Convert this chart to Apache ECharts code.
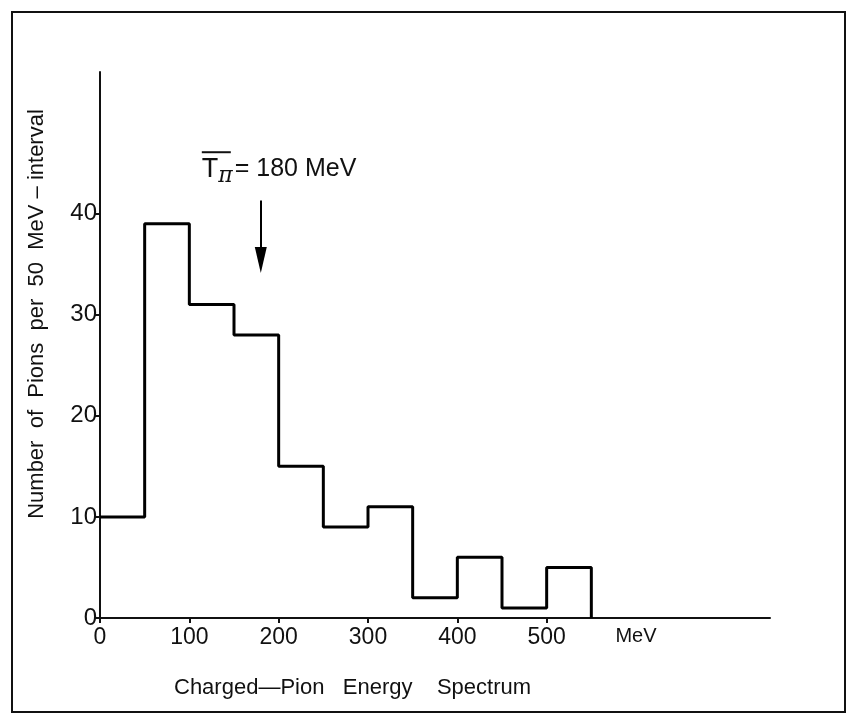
<!DOCTYPE html>
<html>
<head>
<meta charset="utf-8">
<script src="https://cdn.jsdelivr.net/npm/echarts@6/dist/echarts.min.js"></script>
<style>
  html, body { margin: 0; padding: 0; background: #fff; }
  #chart { width: 855px; height: 723px; }
</style>
</head>
<body>
<div id="chart"></div>
<script>
// bins of 50 MeV
var binStarts = [0, 50, 100, 150, 200, 250, 300, 350, 400, 450, 500];
var binWidth = 50;
var counts = [10, 39, 31, 28, 15, 9, 11, 2, 6, 1, 5];
var xTicks = [0, 100, 200, 300, 400, 500];
var yTicks = [0, 10, 20, 30, 40];
var meanEnergy = 180;

// step outline: one point per bin start, then close at the last edge
var steps = [];
for (var i = 0; i < binStarts.length; i++) {
    steps.push([binStarts[i], counts[i]]);
}
steps.push([binStarts[binStarts.length - 1] + binWidth, 0]);

var font = 'Liberation Sans';
var chart = echarts.init(document.getElementById('chart'));

var option = {
    animation: false,
    backgroundColor: '#fff',
    title: {
        text: 'Charged\u2014Pion   Energy    Spectrum',
        left: 169,
        top: 672,
        textStyle: { fontFamily: font, fontSize: 22, fontWeight: 'normal', color: '#111' }
    },
    grid: { left: 100, right: 85, top: 72, bottom: 105 },
    xAxis: {
        type: 'value',
        min: 0,
        max: 750,
        interval: 50,
        axisLine: { lineStyle: { color: '#111', width: 2 } },
        axisTick: { show: true, length: 5, lineStyle: { color: '#111', width: 2 }, customValues: xTicks },
        splitLine: { show: false },
        axisLabel: {
            customValues: [0, 100, 200, 300, 400, 500, 600],
            color: '#111',
            fontFamily: font,
            fontSize: 23,
            margin: 8,
            formatter: function (v) { return v === 600 ? '{m|MeV}' : String(v); },
            rich: { m: { fontFamily: font, fontSize: 20, color: '#111', padding: [0, 0, 0, 0] } }
        }
    },
    yAxis: {
        type: 'value',
        min: 0,
        max: 54,
        axisLine: { show: true, lineStyle: { color: '#111', width: 2 } },
        axisTick: { show: true, length: 5, lineStyle: { color: '#111', width: 2 }, customValues: yTicks },
        splitLine: { show: false },
        axisLabel: {
            customValues: yTicks,
            color: '#111',
            fontFamily: font,
            fontSize: 24,
            margin: 3
        }
    },
    series: [{
        type: 'line',
        step: 'end',
        data: steps,
        symbol: 'none',
        lineStyle: { color: '#000', width: 3 },
        markLine: {
            silent: true,
            symbol: ['none', 'triangle'],
            symbolSize: [12, 26],
            lineStyle: { color: '#000', width: 2, type: 'solid' },
            label: { show: false },
            data: [[{ coord: [meanEnergy, 41.3] }, { coord: [meanEnergy, 35.4] }]]
        }
    }]
};
chart.setOption(option);

// annotation text, y title and frame, placed from the axis scale
var p = chart.convertToPixel({ gridIndex: 0 }, [meanEnergy, 43]);
var tx = p[0] - 59;
chart.setOption({
    graphic: [
        {
            type: 'rect',
            shape: { x: 12, y: 12, width: 833, height: 700 },
            style: { fill: null, stroke: '#111', lineWidth: 2 }
        },
        {
            type: 'text',
            x: 37,
            y: 314,
            rotation: Math.PI / 2,
            style: {
                text: 'Number  of  Pions  per  50  MeV \u2013 interval',
                fontFamily: font,
                fontSize: 22,
                fill: '#111',
                align: 'center',
                verticalAlign: 'middle'
            }
        },
        {
            type: 'text',
            x: tx,
            y: p[1] - 14,
            style: {
                text: '{t|T}{p|\u03c0}{e|= 180 MeV}',
                rich: {
                    t: { fontFamily: font, fontSize: 27, fill: '#111' },
                    p: { fontFamily: 'DejaVu Serif', fontStyle: 'italic', fontSize: 22, fill: '#111', padding: [14, 2, 0, 0] },
                    e: { fontFamily: font, fontSize: 25, fill: '#111' }
                },
                verticalAlign: 'middle'
            }
        },
        {
            type: 'line',
            shape: { x1: tx, y1: p[1] - 31, x2: tx + 29, y2: p[1] - 31 },
            style: { stroke: '#111', lineWidth: 2 }
        }
    ]
});
</script>
</body>
</html>
